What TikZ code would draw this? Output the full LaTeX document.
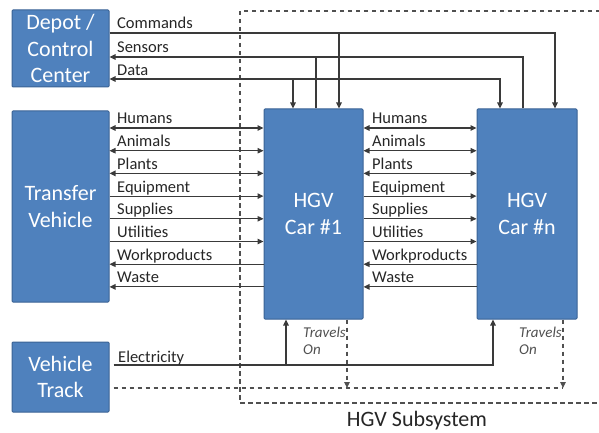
\documentclass[tikz,border=0pt]{standalone}
\usepackage{fontspec}
\setmainfont{Carlito}
\usetikzlibrary{arrows.meta,calc}
\definecolor{boxblue}{HTML}{4F81BD}
\definecolor{boxborder}{HTML}{3A6395}
\definecolor{linec}{HTML}{3A3A3A}
\definecolor{txt}{HTML}{262626}
\definecolor{dashc}{HTML}{505050}
\begin{document}
\begin{tikzpicture}[x=1pt,y=-1pt,
  blk/.style={draw=boxborder, fill=boxblue, line width=1pt, text=white,
    font=\fontsize{22}{26.5}\selectfont, align=center, inner sep=0pt, rounded corners=1pt},
  lbl/.style={font=\fontsize{16.5}{19}\selectfont, text=txt, anchor=base west, inner sep=0pt},
  trav/.style={font=\fontsize{15}{18}\selectfont\itshape, text=dashc, anchor=base west, inner sep=0pt},
  ln/.style={draw=linec, line width=1.1pt},
  dl/.style={draw=dashc, line width=1.1pt, dash pattern=on 4.5pt off 3.5pt},
  tip/.tip={Triangle[length=6pt,width=5.5pt]},
  ar/.style={-tip},
  al/.style={tip-},
  ab/.style={tip-tip}
]
\useasboundingbox (0,0) rectangle (599,433);
\clip (0,0) rectangle (599,433);

% subsystem boundary
\draw[dl] (240,11) rectangle (620,403);
\node[font=\fontsize{22}{26}\selectfont, text=txt] (sub) at (417,421) {HGV Subsystem};

% blocks
\node[blk, minimum width=97pt, minimum height=77pt] (dep) at (60.5,48.5) {Depot /\\Control\\Center};
\node[blk, minimum width=97pt, minimum height=191pt] (tv) at (60.5,206.5) {Transfer\\Vehicle};
\node[blk, minimum width=97pt, minimum height=70pt] (vt) at (60.5,377) {Vehicle\\Track};
\node[blk, minimum width=99pt, minimum height=210pt] (c1) at (313.5,214) {HGV\\Car \#1};
\node[blk, minimum width=100pt, minimum height=210pt] (cn) at (527,214) {HGV\\Car \#n};

% commands / sensors / data
\coordinate (cmdb) at (339,33);
\coordinate (senb) at (316,57);
\coordinate (datb) at (293,79);
\draw[ln,ar] (dep.east |- 0,33) -| (cn.north -| 555,0);
\draw[ln,ar] (cmdb) -- (c1.north -| cmdb);
\draw[ln,ar] (cn.north -| 523,0) |- (dep.east |- 0,57);
\draw[ln] (c1.north -| senb) -- (senb);
\draw[ln,ab] (dep.east |- 0,79) -| (cn.north -| 500,0);
\draw[ln,ar] (datb) -- (c1.north -| datb);
\node[lbl] (lcmd) at (117,29) {Commands};
\node[lbl] (lsen) at (117,53) {Sensors};
\node[lbl] (ldat) at (117,75.5) {Data};

% flows
\foreach \y/\t/\s in {128/Humans/ab, 150.7/Animals/ab, 173.4/Plants/ab,
                      196.1/Equipment/ar, 218.8/Supplies/ar, 241.5/Utilities/ar,
                      264.2/Workproducts/al, 286.9/Waste/al}{
  \draw[ln,\s] (tv.east |- 0,\y) -- (c1.west |- 0,\y);
  \draw[ln,\s] (c1.east |- 0,\y) -- (cn.west |- 0,\y);
  \node[lbl] at (117,\y-4) {\t};
  \node[lbl] at (372,\y-4) {\t};
}

% electricity
\coordinate (elb) at (286,365);
\draw[ln,ar] ($(vt.east |- 0,365)+(4,0)$) -| (cn.south -| 493,0);
\draw[ln,ar] (elb) -- (c1.south -| elb);
\node[lbl] (lel) at (118,362) {Electricity};

% travels on
\coordinate (tr) at (563,388);
\draw[dl] ($(vt.east |- 0,388)+(4,0)$) -- (tr);
\draw[dl,ar] (c1.south -| 347,0) -- (347,388);
\draw[dl,ar] (cn.south -| tr) -- (tr);
\node[trav] (t1a) at (303,337) {Travels};
\node[trav] (t1b) at (303,354) {On};
\node[trav] (tna) at (519,337) {Travels};
\node[trav] (tnb) at (519,354) {On};
\end{tikzpicture}
\end{document}
